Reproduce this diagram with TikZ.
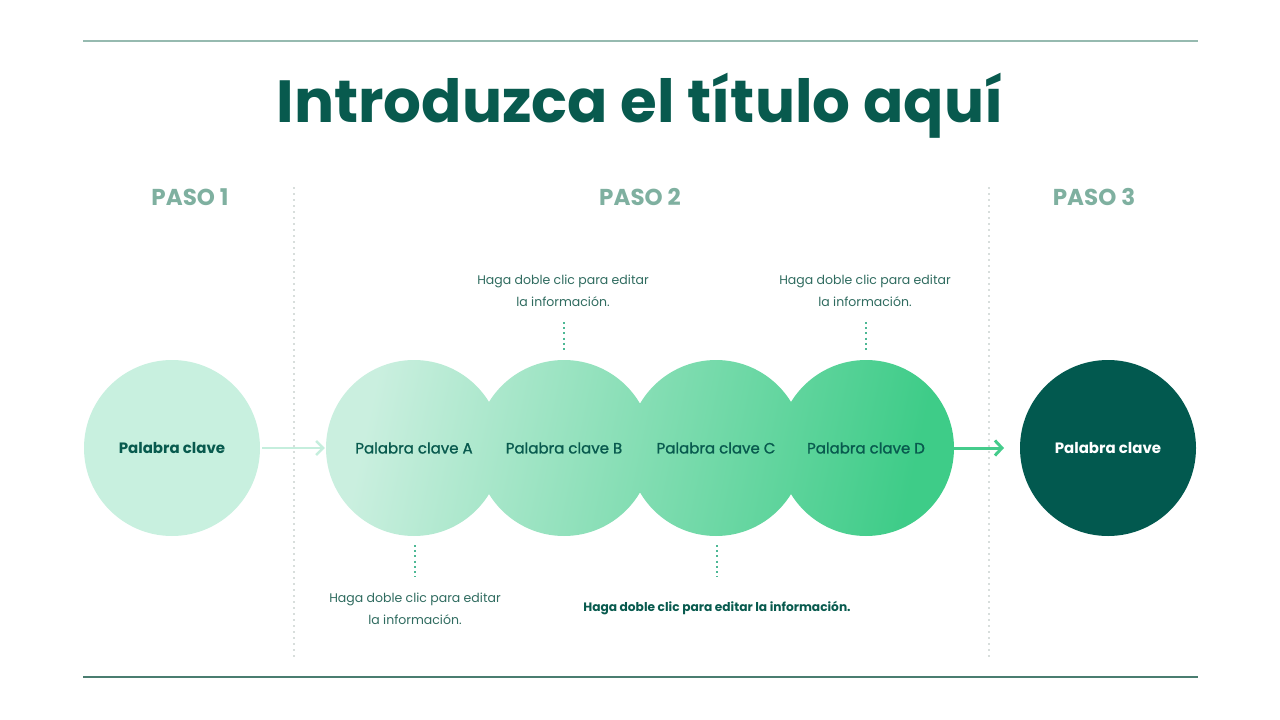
\documentclass[tikz,border=0pt]{standalone}
\usepackage{fontspec}
\setmainfont{Poppins}
\newfontfamily\poppinsmed[FakeBold=1.2]{Poppins}
\usetikzlibrary{arrows.meta}
\definecolor{titlegreen}{HTML}{085A4E}
\definecolor{darkcirc}{HTML}{02594F}
\definecolor{pasocol}{HTML}{7FB0A0}
\definecolor{topline}{HTML}{96BAB0}
\definecolor{botline}{HTML}{4A7D70}
\definecolor{smalltext}{HTML}{2F6B5F}
\definecolor{mint}{HTML}{C8F0DF}
\definecolor{gradlight}{HTML}{CAEFDF}
\definecolor{graddark}{HTML}{3ECC88}
\definecolor{dotcol}{HTML}{4DB895}
\definecolor{sepcol}{HTML}{D8DEDC}
\definecolor{arrowlight}{HTML}{C5EEDD}
\definecolor{arrowdark}{HTML}{45CC8C}
\tikzset{
  paso/.style={font=\fontsize{23}{26}\selectfont\bfseries, text=pasocol},
  kw/.style={font=\fontsize{15}{18}\selectfont\poppinsmed, text=titlegreen},
  kwbold/.style={font=\fontsize{15}{18}\selectfont\bfseries},
  circnode/.style={circle, minimum size=176pt, inner sep=0pt},
  info/.style={font=\fontsize{12.5}{22}\selectfont, text=smalltext, align=center},
  dotline/.style={dotcol, line width=2pt, dash pattern=on 2pt off 3.2pt},
  sepline/.style={sepcol, line width=1.6pt, dash pattern=on 2pt off 4pt},
}
\begin{document}
\begin{tikzpicture}[x=1pt,y=-1pt]
\useasboundingbox (0,0) rectangle (1280,720);
% rules
\draw[topline, line width=2pt] (83,41) -- (1198,41);
\draw[botline, line width=2pt] (83,677) -- (1198,677);
% title
\node[font=\fontsize{59.5}{64}\selectfont\bfseries, text=titlegreen] (title) at (640,106) {Introduzca el título aquí};
% step labels
\node[paso] (p1) at (190,197) {PASO 1};
\node[paso] (p2) at (640,197) {PASO 2};
\node[paso] (p3) at (1094,197) {PASO 3};
% separators
\coordinate (s1t) at (294,187); \coordinate (s1b) at (294,660);
\coordinate (s2t) at (989,187); \coordinate (s2b) at (989,660);
\draw[sepline] (s1t) -- (s1b);
\draw[sepline] (s2t) -- (s2b);
% circles
\fill[mint] (172,448) circle (88);
\shade[shading=axis, left color=gradlight, right color=graddark, shading angle=78]
  (414,448) circle (88) (564,448) circle (88) (716,448) circle (88) (866,448) circle (88);
\fill[darkcirc] (1108,448) circle (88);
\node[circnode, kwbold, text=titlegreen] (c0) at (172,448) {Palabra clave};
\node[circnode, kw] (ca) at (414,448) {Palabra clave A};
\node[circnode, kw] (cb) at (564,448) {Palabra clave B};
\node[circnode, kw] (cc) at (716,448) {Palabra clave C};
\node[circnode, kw] (cd) at (866,448) {Palabra clave D};
\node[circnode, kwbold, text=white] (c3) at (1108,448) {Palabra clave};
% arrows
\draw[arrowlight, line width=2.5pt, -{Straight Barb[length=7pt,width=14pt,line width=2.5pt]}] ([xshift=2pt]c0.east) -- ([xshift=-1pt]ca.west);
\draw[arrowdark, line width=3pt, -{Straight Barb[length=7pt,width=15pt,line width=3pt]}] (cd.east) -- (1004,448);
% info texts
\node[info] (ib) at (563,291) {Haga doble clic para editar\\la información.};
\node[info] (id) at (865,291) {Haga doble clic para editar\\la información.};
\node[info] (ia) at (415,609) {Haga doble clic para editar\\la información.};
\node[font=\fontsize{12.2}{15}\selectfont\bfseries, text=titlegreen] (ic) at (717,608) {Haga doble clic para editar la información.};
% dotted leaders
\draw[dotline] (564,322) -- (564,353);
\draw[dotline] (866,322) -- (866,353);
\draw[dotline] (415,545) -- (415,577);
\draw[dotline] (717,545) -- (717,577);
\end{tikzpicture}
\end{document}
